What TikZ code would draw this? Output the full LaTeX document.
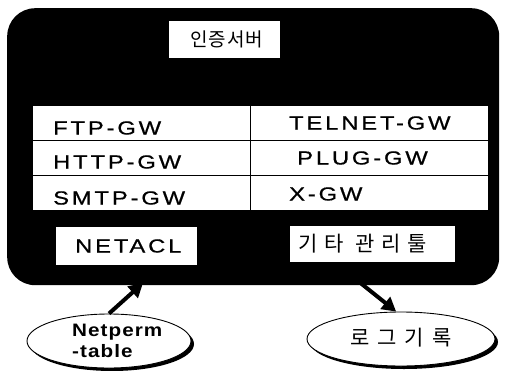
\documentclass[tikz,border=0pt]{standalone}
\usepackage{graphicx}
\usepackage{fontspec}
\setmainfont{Liberation Sans}
\newfontfamily\kr{Noto Sans CJK KR}
\newcommand\hwide[1]{\scalebox{1.25}[1]{#1}}
\usetikzlibrary{arrows.meta,shapes.geometric}
\begin{document}
\begin{tikzpicture}[x=1pt,y=-1pt,
  wbox/.style={draw=black,line width=0.6pt,fill=white,inner sep=0pt},
  cell/.style={wbox,minimum height=35pt,anchor=north west},
  lbl/.style={font=\fontsize{19}{21}\selectfont\addfontfeatures{LetterSpace=12,FakeBold=0.6},anchor=west,inner sep=0pt},
  krtext/.style={font=\kr\fontsize{21}{23}\selectfont\addfontfeatures{LetterSpace=#1},inner sep=0pt,anchor=west},
  oval/.style={ellipse,draw=black,line width=0.9pt,fill=white,inner sep=0pt},
  bigarrow/.style={line width=4pt,-{Triangle[length=14pt,width=15pt]}}]
\useasboundingbox (0,0) rectangle (509,370);
% frame
\node[fill=black,rounded corners=28pt,minimum width=492pt,minimum height=277pt,anchor=north west,inner sep=0pt] (frame) at (7,8) {};
% auth server
\node[wbox,minimum width=112pt,minimum height=38pt] (auth) at (224,39) {};
\node[font=\kr\fontsize{19}{21}\selectfont\addfontfeatures{LetterSpace=5},inner sep=0pt,anchor=west] (authtxt) at (190,39) {인증서버};
% table cells
\node[cell,minimum width=218pt] (c11) at (32,105) {};
\node[cell,minimum width=238pt] (c12) at (250,105) {};
\node[cell,minimum width=218pt] (c21) at (32,140) {};
\node[cell,minimum width=238pt] (c22) at (250,140) {};
\node[cell,minimum width=218pt] (c31) at (32,175) {};
\node[cell,minimum width=238pt] (c32) at (250,175) {};
\node[lbl] (t11) at (53,128) {\hwide{FTP-GW}};
\node[lbl] (t12) at (289,123) {\hwide{TELNET-GW}};
\node[lbl] (t21) at (53,162) {\hwide{HTTP-GW}};
\node[lbl] (t22) at (297,158) {\hwide{PLUG-GW}};
\node[lbl] (t31) at (53,198) {\hwide{SMTP-GW}};
\node[lbl] (t32) at (289,194) {\hwide{X-GW}};
% bottom boxes
\node[wbox,minimum width=142pt,minimum height=39pt] (netacl) at (126,246) {};
\node[lbl] (netacltxt) at (75,246) {\hwide{NETACL}};
\node[wbox,minimum width=166pt,minimum height=37pt] (etc) at (372,244) {};
\node[krtext=33] (etctxt) at (298,244) {기타 관리툴};
% ellipses with shadow
\fill[black] (112,344) ellipse [x radius=82pt,y radius=27pt];
\node[oval,minimum width=164pt,minimum height=54pt] (netperm) at (109,341) {};
\node[inner sep=0pt,align=left,anchor=west,font=\fontsize{18}{21}\selectfont\bfseries\addfontfeatures{LetterSpace=5}] (netpermtxt) at (72,341) {\scalebox{1.15}[1]{Netperm}\\\scalebox{1.15}[1]{-table}};
\fill[black] (404,342) ellipse [x radius=94pt,y radius=27pt];
\node[oval,minimum width=188pt,minimum height=54pt] (log) at (401,339) {};
\node[krtext=38] (logtxt) at (350,338) {로그기록};
% arrows
\coordinate (a1) at (143,283);
\coordinate (a2) at (358,281);
\draw[bigarrow] (netperm.north) -- (a1);
\draw[bigarrow] (a2) -- (log.100);
\end{tikzpicture}
\end{document}
